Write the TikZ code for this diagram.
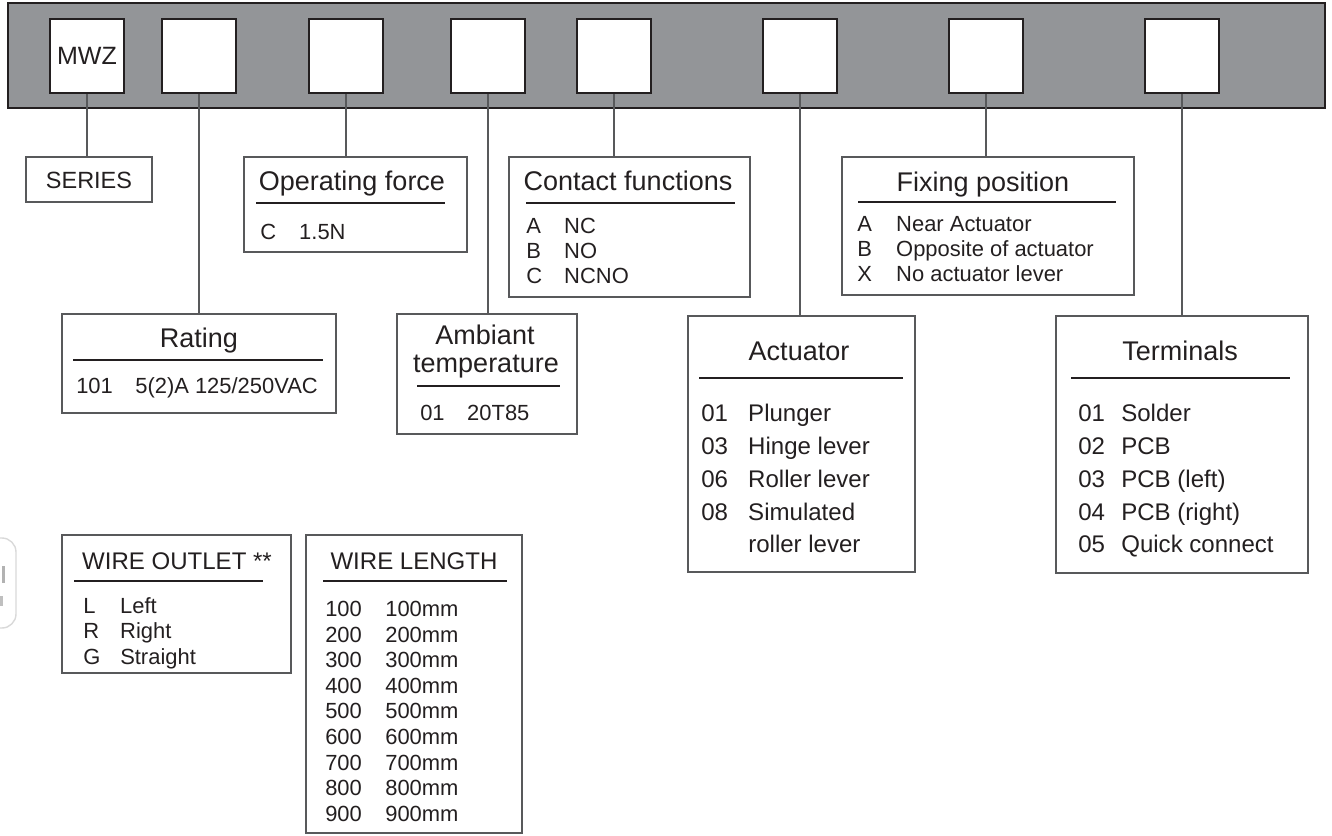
\documentclass[tikz,border=0pt]{standalone}
\usepackage{xcolor}
\usepackage{fontspec}
\setmainfont{Liberation Sans}
\usetikzlibrary{fit,positioning}
\definecolor{barfill}{HTML}{939598}
\definecolor{ink}{HTML}{231F20}
\definecolor{framegray}{HTML}{58595B}
\newcommand{\entry}[3]{\makebox[#1][l]{#2}#3}

\begin{document}
\begin{tikzpicture}[x=0.025cm, y=-0.025cm]
		\tikzstyle{every node}=[text=ink]
		\tikzstyle{slot}=[draw=ink, fill=white, line width=1.8pt, minimum size=52.6pt, inner sep=0pt, font=\fontsize{17.8}{20}\selectfont]
		\tikzstyle{frame}=[draw=framegray, line width=0.8pt, inner sep=0pt]
		\tikzstyle{heading}=[anchor=base, inner sep=0pt, font=\fontsize{19.2}{22}\selectfont]
		\tikzstyle{wireheading}=[anchor=base, inner sep=0pt, font=\fontsize{17.1}{20}\selectfont]
		\tikzstyle{row}=[anchor=base west, inner sep=0pt, font=\fontsize{15.6}{18}\selectfont]
		\tikzstyle{bigrow}=[anchor=base west, inner sep=0pt, font=\fontsize{17.1}{20}\selectfont]
		\tikzstyle{rule}=[draw=ink, line width=0.8pt]
		\tikzstyle{wire}=[draw=framegray, line width=0.8pt]
		\useasboundingbox (0,0) rectangle (1332,835);
		% cut-off icon at the left edge
		\draw [gray!30, line width=1pt, rounded corners=10] (-30,538) rectangle (16,628);
		\fill [gray!60] (2,566) rectangle (5,583);
		\fill [gray!50] (0,596) rectangle (3,606);
		% code bar
		\draw [draw=ink, line width=0.8pt, fill=barfill] (8,3) rectangle (1325,108);
		\node [slot] (b1) at (87,56) {MWZ};
		\node [slot] (b2) at (199,56) {};
		\node [slot] (b3) at (346,56) {};
		\node [slot] (b4) at (488,56) {};
		\node [slot] (b5) at (614,56) {};
		\node [slot] (b6) at (800,56) {};
		\node [slot] (b7) at (986,56) {};
		\node [slot] (b8) at (1182,56) {};
		% label boxes
		\node [frame, fit={(26,157) (152,202)}] (series) {};
		\node [frame, fit={(244,157) (467,252)}] (opforce) {};
		\node [frame, fit={(509,157) (750,297)}] (contact) {};
		\node [frame, fit={(842,157) (1134,295)}] (fixing) {};
		\node [frame, fit={(62,314) (336,413)}] (rating) {};
		\node [frame, fit={(397,314) (577,434)}] (ambient) {};
		\node [frame, fit={(688,316) (915,572)}] (actuator) {};
		\node [frame, fit={(1056,316) (1308,573)}] (terminals) {};
		\node [frame, fit={(62,535) (291,673)}] (outlet) {};
		\node [frame, fit={(306,535) (522,833)}] (length) {};
		% connectors
		\draw [wire] (b1.south) -- (b1.south |- series.north);
		\draw [wire] (b2.south) -- (b2.south |- rating.north);
		\draw [wire] (b3.south) -- (b3.south |- opforce.north);
		\draw [wire] (b4.south) -- (b4.south |- ambient.north);
		\draw [wire] (b5.south) -- (b5.south |- contact.north);
		\draw [wire] (b6.south) -- (b6.south |- actuator.north);
		\draw [wire] (b7.south) -- (b7.south |- fixing.north);
		\draw [wire] (b8.south) -- (b8.south |- terminals.north);
		% headings and rules
		\node [anchor=base, inner sep=0pt, font=\fontsize{16.7}{20}\selectfont] (seriestext) at (89,188) {SERIES};
		\node [heading] (opforcetitle) at (352,190) {Operating force};
		\draw [rule] (256,203) -- (445,203);
		\node [heading] (contacttitle) at (628,190) {Contact functions};
		\draw [rule] (526,203) -- (735,203);
		\node [heading] (fixingtitle) at (983,191) {Fixing position};
		\draw [rule] (858,202) -- (1116,202);
		\node [heading] (ratingtitle) at (199,347) {Rating};
		\draw [rule] (73,360) -- (323,360);
		\node [heading] (ambienttitle) at (485,344) {Ambiant};
		\node [heading] (ambienttitleb) at (486,372) {temperature};
		\draw [rule] (417,386) -- (560,386);
		\node [heading] (actuatortitle) at (799,360) {Actuator};
		\draw [rule] (699,378) -- (903,378);
		\node [heading] (terminalstitle) at (1180,360) {Terminals};
		\draw [rule] (1071,378) -- (1290,378);
		\node [wireheading] (outlettitle) at (177,569) {WIRE OUTLET **};
		\draw [rule] (74,581) -- (263,581);
		\node [wireheading] (lengthtitle) at (414,569) {WIRE LENGTH};
		\draw [rule] (323,581) -- (507,581);
		% entries
		\node [row] (of1) at (260,239) {\entry{27.7pt}{C}{1.5N}};
		\node [row] (cf1) at (526,233) {\entry{27pt}{A}{NC}};
		\node [row] (cf2) at (526,258) {\entry{27pt}{B}{NO}};
		\node [row] (cf3) at (526,283) {\entry{27pt}{C}{NCNO}};
		\node [row] (fp1) at (857,231) {\entry{27.7pt}{A}{Near Actuator}};
		\node [row] (fp2) at (857,256) {\entry{27.7pt}{B}{Opposite of actuator}};
		\node [row] (fp3) at (857,281) {\entry{27.7pt}{X}{No actuator lever}};
		\node [row] (rt1) at (76,393) {\entry{42pt}{101}{5(2)A 125/250VAC}};
		\node [row] (at1) at (420,420) {\entry{33.4pt}{01}{20T85}};
		\node [bigrow] (ac1) at (701,421) {\entry{33.4pt}{01}{Plunger}};
		\node [bigrow] (ac2) at (701,454) {\entry{33.4pt}{03}{Hinge lever}};
		\node [bigrow] (ac3) at (701,487) {\entry{33.4pt}{06}{Roller lever}};
		\node [bigrow] (ac4) at (701,520) {\entry{33.4pt}{08}{Simulated}};
		\node [bigrow] (ac5) at (748,552) {roller lever};
		\node [bigrow] (tm1) at (1078,421) {\entry{30.6pt}{01}{Solder}};
		\node [bigrow] (tm2) at (1078,454) {\entry{30.6pt}{02}{PCB}};
		\node [bigrow] (tm3) at (1078,487) {\entry{30.6pt}{03}{PCB (left)}};
		\node [bigrow] (tm4) at (1078,520) {\entry{30.6pt}{04}{PCB (right)}};
		\node [bigrow] (tm5) at (1078,552) {\entry{30.6pt}{05}{Quick connect}};
		\node [row] (wo1) at (83,613) {\entry{26.3pt}{L}{Left}};
		\node [row] (wo2) at (83,638) {\entry{26.3pt}{R}{Right}};
		\node [row] (wo3) at (83,664) {\entry{26.3pt}{G}{Straight}};
		\node [row] (wl1) at (325,616) {\entry{42.7pt}{100}{100mm}};
		\node [row] (wl2) at (325,642) {\entry{42.7pt}{200}{200mm}};
		\node [row] (wl3) at (325,667) {\entry{42.7pt}{300}{300mm}};
		\node [row] (wl4) at (325,693) {\entry{42.7pt}{400}{400mm}};
		\node [row] (wl5) at (325,718) {\entry{42.7pt}{500}{500mm}};
		\node [row] (wl6) at (325,744) {\entry{42.7pt}{600}{600mm}};
		\node [row] (wl7) at (325,770) {\entry{42.7pt}{700}{700mm}};
		\node [row] (wl8) at (325,795) {\entry{42.7pt}{800}{800mm}};
		\node [row] (wl9) at (325,821) {\entry{42.7pt}{900}{900mm}};
	\end{tikzpicture}
\end{document}
